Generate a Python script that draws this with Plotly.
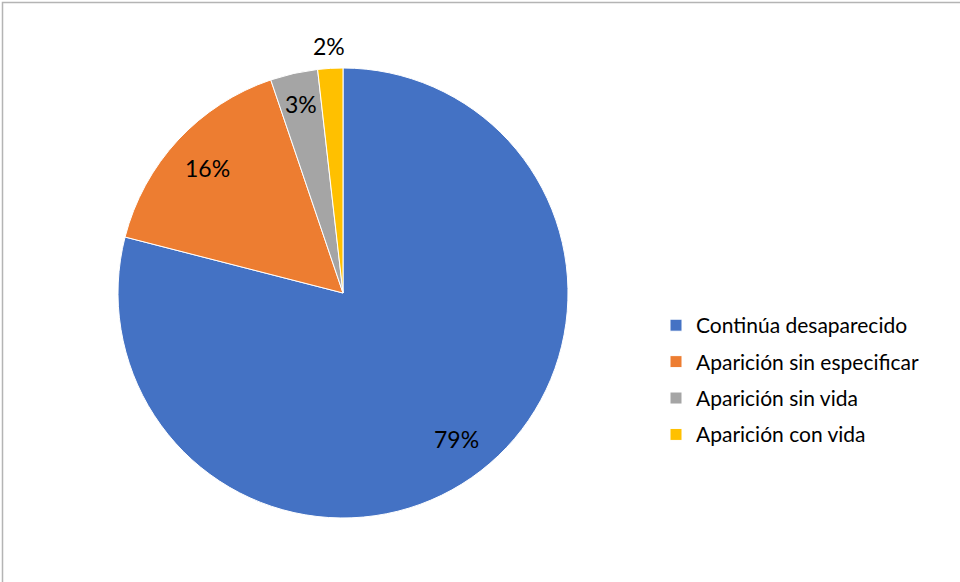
import math
import plotly.graph_objects as go

categories = ["Continúa desaparecido", "Aparición sin especificar", "Aparición sin vida", "Aparición con vida"]
values = [79.0, 15.8, 3.4, 1.8]
colors = ["#4472C4", "#ED7D31", "#A5A5A5", "#FFC000"]

W, H = 960, 582
cx, cy, R = 343, 293, 225
FONT = "Lato"

fig = go.Figure()
fig.add_trace(go.Pie(
    labels=[f'<span style="font-size:21px;baseline-shift:2px">{c}</span>' for c in categories],
    values=values,
    sort=False,
    direction="clockwise",
    rotation=0,
    marker=dict(colors=colors, line=dict(color="white", width=1)),
    textinfo="none",
    hoverinfo="label+percent",
    domain=dict(x=[(cx - R) / W, (cx + R) / W], y=[1 - (cy + R) / H, 1 - (cy - R) / H]),
))

total = sum(values)
cum = 0.0
fracs = [0.82, 0.82, 0.86, 1.1]
for v, f in zip(values, fracs):
    mid = (cum + v / 2) / total * 2 * math.pi
    cum += v
    px = cx + f * R * math.sin(mid)
    py = cy - f * R * math.cos(mid)
    fig.add_annotation(x=px / W, y=1 - py / H, xref="paper", yref="paper",
                       text=f"{round(v / total * 100)}%", showarrow=False,
                       font=dict(family=FONT, size=23, color="#000000"),
                       xanchor="center", yanchor="middle")

fig.add_shape(type="rect", xref="paper", yref="paper",
              x0=2.5 / W, x1=1.2, y0=-0.2, y1=1 - 2.5 / H,
              line=dict(color="#B4B4B4", width=1.5), fillcolor="rgba(0,0,0,0)", layer="above")

fig.update_layout(
    width=W, height=H,
    margin=dict(l=0, r=0, t=0, b=0),
    paper_bgcolor="white",
    plot_bgcolor="white",
    font=dict(family=FONT, color="#000000"),
    legend=dict(x=656 / W, y=1 - 302 / H, xanchor="left", yanchor="top",
                font=dict(family=FONT, size=25.7, color="#000000"),
                bgcolor="rgba(0,0,0,0)"),
)

fig.write_html("out.html", config={"displayModeBar": False},
               post_script="document.body.style.margin='0';document.body.style.padding='0';")
